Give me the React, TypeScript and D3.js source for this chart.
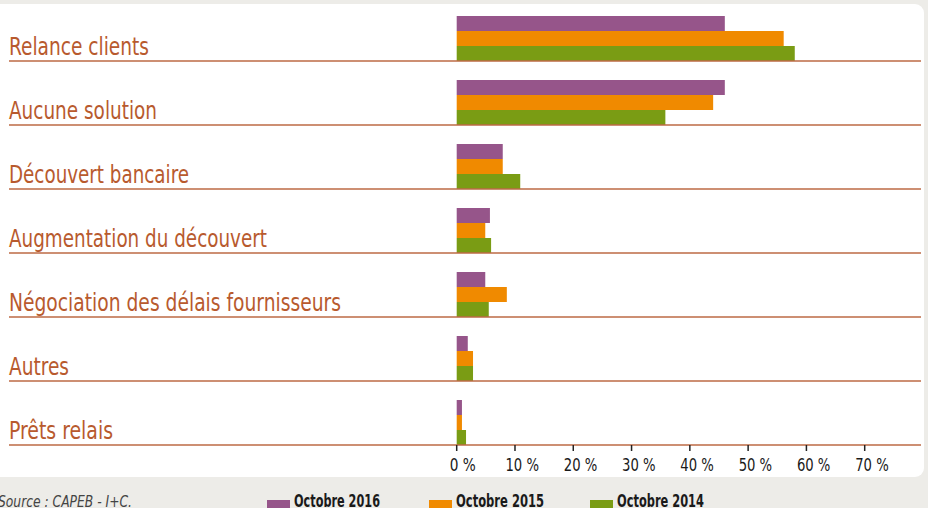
import React from "react";
import * as d3 from "d3";

const categories = [
  "Relance clients",
  "Aucune solution",
  "Découvert bancaire",
  "Augmentation du découvert",
  "Négociation des délais fournisseurs",
  "Autres",
  "Prêts relais",
];
const seriesNames = ["Octobre 2016", "Octobre 2015", "Octobre 2014"];
const oct2016 = [46, 46, 7.9, 5.7, 4.9, 1.9, 0.9];
const oct2015 = [56.1, 44, 7.9, 4.9, 8.6, 2.8, 0.9];
const oct2014 = [58, 35.8, 10.9, 5.9, 5.5, 2.8, 1.6];
const tickValues = [0, 10, 20, 30, 40, 50, 60, 70];
const labelWidths = [140, 148, 180, 258, 332, 60, 104];

const W = 928;
const H = 508;
const colors = ["#96558a", "#f08a00", "#7a9c14"];
const labelColor = "#b85a2e";
const lineColor = "#bd6a44";
const condensed = "'Liberation Sans Narrow', 'DejaVu Sans Condensed', 'Arial Narrow', sans-serif";

export default function App() {
  const series = [oct2016, oct2015, oct2014];
  const x = d3.scaleLinear().domain([0, 70]).range([456.7, 864.7]);
  const y = d3.scaleBand<string>().domain(categories).range([-3, 445]).padding(0);
  const inner = d3
    .scaleBand<number>()
    .domain([0, 1, 2])
    .range([y.bandwidth() - 45, y.bandwidth()])
    .padding(0);

  const legendX = [267, 429, 590];
  const legendW = [86, 88, 87];

  return (
    <div>
      <style>{`body{margin:0;}`}</style>
      <svg width={W} height={H} style={{ display: "block" }}>
        <rect x={0} y={0} width={W} height={H} fill="#edece8" />
        <rect x={-12} y={4} width={936} height={473} rx={9} fill="#ffffff" />
        {categories.map((c, i) => {
          const y0 = y(c)!;
          const lineY = y0 + y.bandwidth();
          return (
            <g key={c}>
              <text
                x={9}
                y={lineY - 6}
                fill={labelColor}
                fontFamily={condensed}
                fontSize={24}
                textLength={labelWidths[i]}
                lengthAdjust="spacingAndGlyphs"
              >
                {c}
              </text>
              {series.map((s, k) => (
                <rect
                  key={k}
                  x={x(0)}
                  y={y0 + inner(k)!}
                  width={x(s[i]) - x(0)}
                  height={inner.bandwidth()}
                  fill={colors[k]}
                />
              ))}
              <line x1={9} x2={921} y1={lineY} y2={lineY} stroke={lineColor} strokeWidth={1.5} />
            </g>
          );
        })}
        {tickValues.map((t) => (
          <g key={t}>
            <line x1={x(t)} x2={x(t)} y1={445} y2={451} stroke="#222" strokeWidth={1.5} />
            <text
              x={x(t) - (t === 0 ? 7 : 9.5)}
              y={471}
              fill="#1a1a1a"
              fontFamily={condensed}
              fontSize={17}
              textLength={t === 0 ? 26 : 33.5}
              lengthAdjust="spacingAndGlyphs"
            >
              {`${t} %`}
            </text>
          </g>
        ))}
        <text
          x={-2}
          y={507}
          fill="#444"
          fontFamily={condensed}
          fontStyle="italic"
          fontSize={15}
          textLength={134}
          lengthAdjust="spacingAndGlyphs"
        >
          Source : CAPEB - I+C.
        </text>
        {seriesNames.map((n, k) => (
          <g key={n}>
            <rect x={legendX[k]} y={500} width={23} height={10} fill={colors[k]} />
            <text
              x={legendX[k] + 27}
              y={507}
              fill="#1a1a1a"
              fontFamily={condensed}
              fontWeight="bold"
              fontSize={18}
              textLength={legendW[k]}
              lengthAdjust="spacingAndGlyphs"
            >
              {n}
            </text>
          </g>
        ))}
      </svg>
    </div>
  );
}
